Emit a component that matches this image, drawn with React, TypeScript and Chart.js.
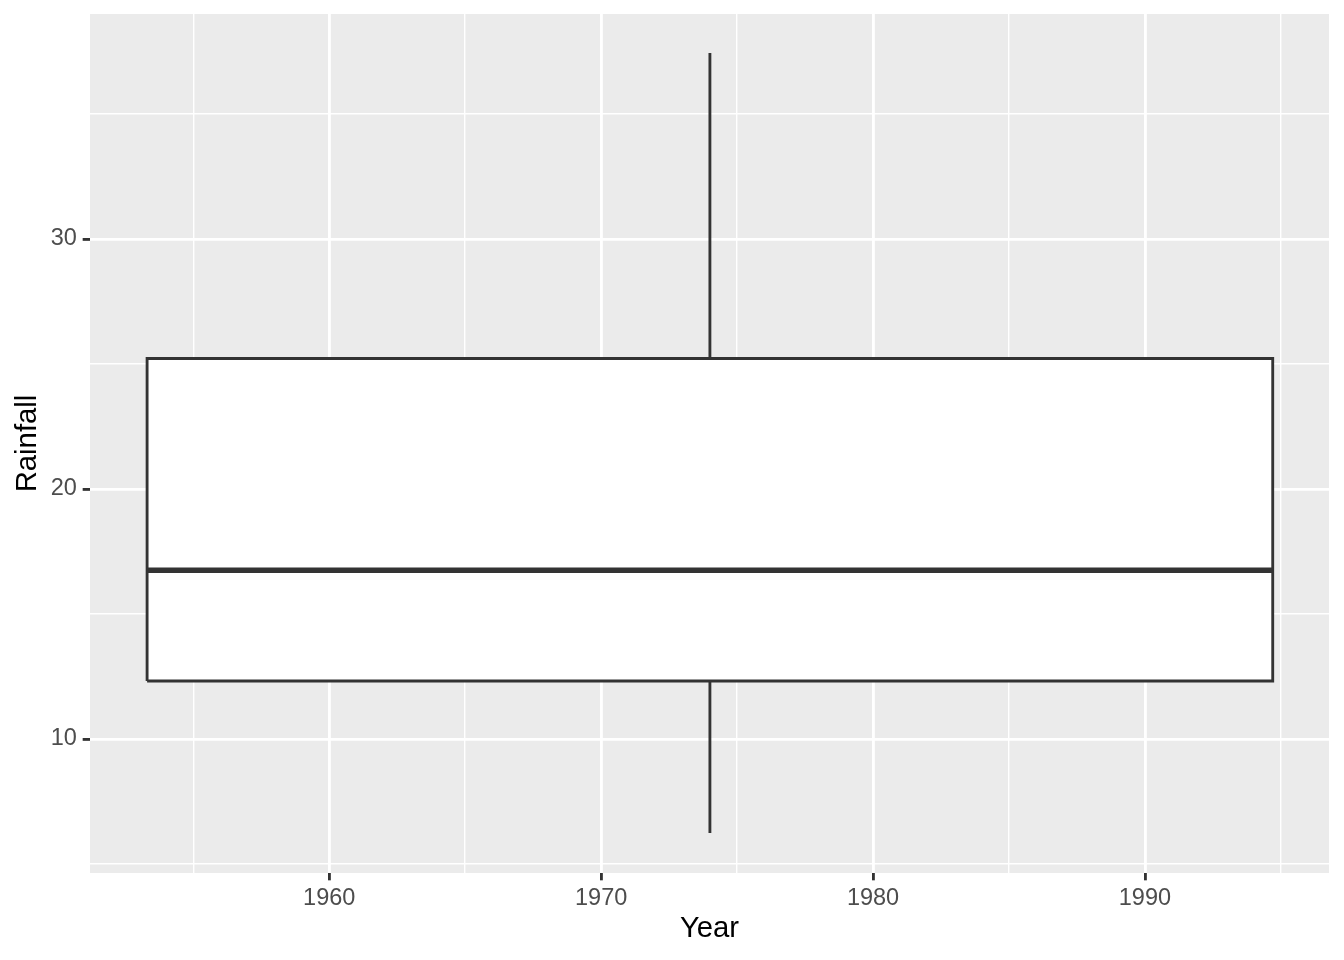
import React, { useEffect, useRef } from "react";
import { Chart, registerables } from "chart.js";

Chart.register(...registerables);

// ---- data ----
const boxYearRange = [1953.3, 1994.7];
const whiskerYear = 1974.0;
const rainfallMin = 6.24;
const rainfallQ1 = 12.32;
const rainfallMedian = 16.75;
const rainfallQ3 = 25.22;
const rainfallMax = 37.44;

const xLimits = [1951.2, 1996.77];
const yLimits = [4.64, 39.0];
const xGridValues = [1955, 1960, 1965, 1970, 1975, 1980, 1985, 1990, 1995];
const xTickLabels = ["1960", "1970", "1980", "1990"];
const yGridValues = [5, 10, 15, 20, 25, 30, 35];
const yTickLabels = ["10", "20", "30"];

const FONT = "'Liberation Sans', Arial, Helvetica, sans-serif";
const DARK = "#333333";

const panelBg = {
  id: "panelBg",
  beforeDraw(chart: any) {
    const { ctx, chartArea } = chart;
    ctx.save();
    ctx.fillStyle = "#EBEBEB";
    ctx.fillRect(chartArea.left, chartArea.top, chartArea.right - chartArea.left, chartArea.bottom - chartArea.top);
    ctx.restore();
  },
};

export default function App() {
  const ref = useRef<HTMLCanvasElement | null>(null);

  useEffect(() => {
    document.body.style.margin = "0";
    const canvas = ref.current;
    if (!canvas) return;
    const [L, R] = boxYearRange;
    const isMajorX = (v: any) => xTickLabels.includes(String(v));
    const isMajorY = (v: any) => yTickLabels.includes(String(v));

    const chart = new Chart(canvas, {
      type: "scatter",
      data: {
        datasets: [
          {
            label: "median",
            data: [
              { x: L, y: rainfallMedian },
              { x: R, y: rainfallMedian },
            ],
            showLine: true,
            borderColor: DARK,
            borderWidth: 5.7,
            borderCapStyle: "butt",
            pointRadius: 0,
            fill: false,
          },
          {
            label: "box",
            data: [
              { x: L, y: rainfallQ1 },
              { x: R, y: rainfallQ1 },
              { x: R, y: rainfallQ3 },
              { x: L, y: rainfallQ3 },
              { x: L, y: rainfallQ1 },
            ],
            showLine: true,
            borderColor: DARK,
            backgroundColor: "#FFFFFF",
            borderWidth: 2.85,
            borderJoinStyle: "miter",
            pointRadius: 0,
            fill: "shape",
          },
          {
            label: "upper whisker",
            data: [
              { x: whiskerYear, y: rainfallQ3 },
              { x: whiskerYear, y: rainfallMax },
            ],
            showLine: true,
            borderColor: DARK,
            borderWidth: 2.85,
            borderCapStyle: "butt",
            pointRadius: 0,
            fill: false,
          },
          {
            label: "lower whisker",
            data: [
              { x: whiskerYear, y: rainfallMin },
              { x: whiskerYear, y: rainfallQ1 },
            ],
            showLine: true,
            borderColor: DARK,
            borderWidth: 2.85,
            borderCapStyle: "butt",
            pointRadius: 0,
            fill: false,
          },
        ],
      },
      options: {
        responsive: false,
        animation: false,
        events: [],
        layout: { padding: { top: 14, right: 15, left: 0, bottom: 0 } },
        plugins: {
          legend: { display: false },
          tooltip: { enabled: false },
        },
        scales: {
          x: {
            type: "linear",
            min: xLimits[0],
            max: xLimits[1],
            afterBuildTicks: (s: any) => {
              s.ticks = xGridValues.map((v) => ({ value: v }));
            },
            afterFit: (s: any) => {
              s.height = 87;
              s.paddingLeft = 0;
              s.paddingRight = 0;
            },
            border: { display: false },
            grid: {
              color: "#FFFFFF",
              lineWidth: (c: any) => (isMajorX(c.tick?.value) ? 2.85 : 1.42),
              drawTicks: true,
              tickLength: 7.33,
              tickColor: (c: any) => (isMajorX(c.tick?.value) ? DARK : "rgba(0,0,0,0)"),
              tickWidth: (c: any) => (isMajorX(c.tick?.value) ? 2.85 : 0),
            },
            ticks: {
              autoSkip: false,
              maxRotation: 0,
              padding: 4,
              color: "#4D4D4D",
              font: { family: FONT, size: 23.5 },
              callback: (v: any) => (isMajorX(v) ? String(v) : ""),
            },
            title: {
              display: true,
              text: "Year",
              color: "#000000",
              font: { family: FONT, size: 29.3 },
              padding: { top: 0, bottom: 14 },
            },
          },
          y: {
            type: "linear",
            min: yLimits[0],
            max: yLimits[1],
            afterBuildTicks: (s: any) => {
              s.ticks = yGridValues.map((v) => ({ value: v }));
            },
            afterFit: (s: any) => {
              s.width = 90;
              s.paddingTop = 0;
              s.paddingBottom = 0;
            },
            border: { display: false },
            grid: {
              color: "#FFFFFF",
              lineWidth: (c: any) => (isMajorY(c.tick?.value) ? 2.85 : 1.42),
              drawTicks: true,
              tickLength: 7.33,
              tickColor: (c: any) => (isMajorY(c.tick?.value) ? DARK : "rgba(0,0,0,0)"),
              tickWidth: (c: any) => (isMajorY(c.tick?.value) ? 2.85 : 0),
            },
            ticks: {
              autoSkip: false,
              padding: 5.87,
              color: "#4D4D4D",
              font: { family: FONT, size: 23.5 },
              callback: (v: any) => (isMajorY(v) ? String(v) : ""),
            },
            title: {
              display: true,
              text: "Rainfall",
              color: "#000000",
              font: { family: FONT, size: 29.3 },
              padding: { top: 10, bottom: 0 },
            },
          },
        },
      },
      plugins: [panelBg],
    } as any);

    return () => chart.destroy();
  }, []);

  return (
    <div style={{ position: "absolute", left: 0, top: 0 }}>
      <canvas ref={ref} width={1344} height={960} style={{ display: "block", width: 1344, height: 960 }} />
    </div>
  );
}
